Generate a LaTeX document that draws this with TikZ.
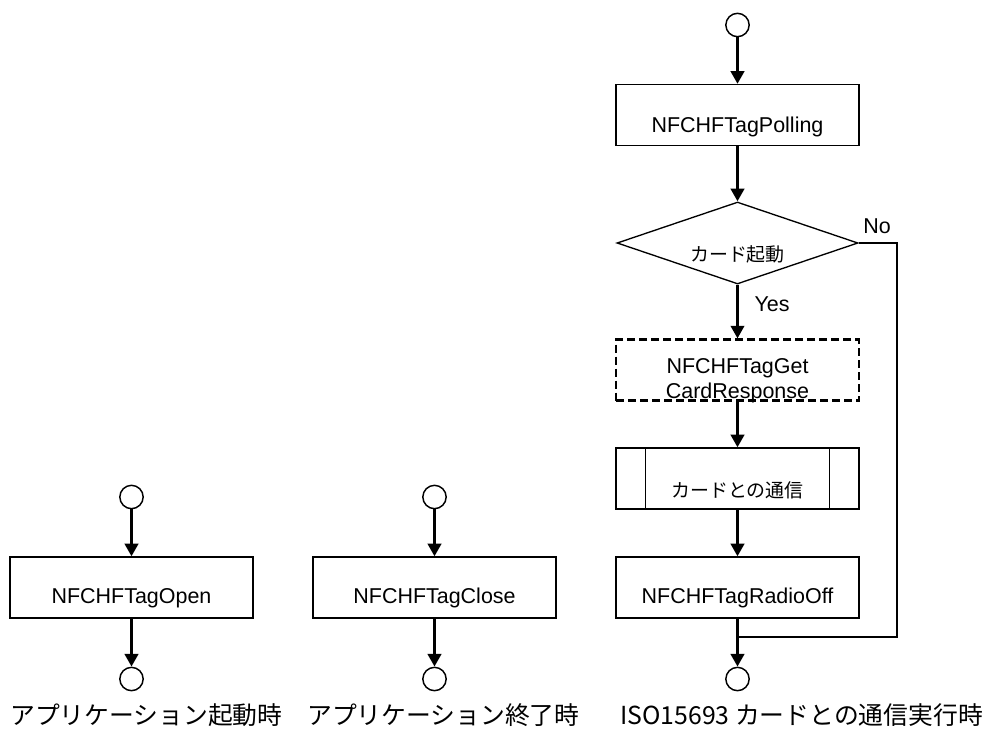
\documentclass[tikz,border=0pt]{standalone}
\usepackage{fontspec}
\setmainfont{Liberation Sans}
\newfontfamily\jp{Noto Sans CJK JP}
\usetikzlibrary{arrows.meta,shapes.geometric}

\begin{document}
\begin{tikzpicture}[x=0.75pt,y=-0.75pt,
  flow/.style={line width=2.2pt,-{Triangle[width=10pt,length=9.5pt]}},
  flowline/.style={line width=2.2pt},
  procbox/.style={draw,line width=1pt,rectangle,minimum width=182.25pt,minimum height=45.75pt,inner sep=0pt},
  term/.style={draw,circle,line width=1.1pt,minimum size=17.5pt,inner sep=0pt},
  boxtext/.style={font=\fontsize{16.1}{19}\selectfont,inner sep=0pt,anchor=base},
  jptext/.style={font=\jp\fontsize{14.2}{17}\selectfont,inner sep=0pt},
  caption/.style={font=\jp\fontsize{18.6}{22}\selectfont,inner sep=0pt,anchor=west},
]
\useasboundingbox (0,0) rectangle (995,736);

% ---- left column
\node[term] (ls) at (131.5,497) {};
\node[procbox] (open) at (131.5,587.5) {};
\node[boxtext] (opent) at (131.5,603) {NFCHFTagOpen};
\node[term] (le) at (131.5,679) {};
\draw[flow] (ls) -- (open);
\draw[flow] (open) -- (le);
\node[caption] (cap1) at (10,715) {アプリケーション起動時};

% ---- middle column
\node[term] (ms) at (434.5,497) {};
\node[procbox] (close) at (434.5,587.5) {};
\node[boxtext] (closet) at (434.5,603) {NFCHFTagClose};
\node[term] (me) at (434.5,679) {};
\draw[flow] (ms) -- (close);
\draw[flow] (close) -- (me);
\node[caption] (cap2) at (307,715) {アプリケーション終了時};

% ---- right column
\node[term] (rs) at (737.5,25) {};
\node[procbox] (poll) at (737.5,115) {};
\node[boxtext] (pollt) at (737.5,132) {NFCHFTagPolling};
\node[draw,diamond,line width=1pt,minimum width=180.75pt,minimum height=61.5pt,inner sep=0pt] (dec) at (737.5,243) {};
\node[jptext] (dect) at (737.5,254) {カード起動};
\node[procbox,line width=1.6pt,dash pattern=on 6pt off 3pt] (get) at (737.5,370) {};
\node[boxtext] (gett1) at (737.5,373) {NFCHFTagGet};
\node[boxtext] (gett2) at (737.5,398) {CardResponse};
\node[procbox] (comm) at (737.5,478.5) {};
\draw[line width=1pt] ([xshift=22.5pt]comm.north west) -- ([xshift=22.5pt]comm.south west);
\draw[line width=1pt] ([xshift=-22.5pt]comm.north east) -- ([xshift=-22.5pt]comm.south east);
\node[jptext] (commt) at (737.5,490) {カードとの通信};
\node[procbox] (radio) at (737.5,587.5) {};
\node[boxtext] (radiot) at (737.5,603) {NFCHFTagRadioOff};
\node[term] (re) at (737.5,679) {};
\coordinate (noA) at (897,243);
\coordinate (noB) at (897,637);
\coordinate (join) at (737.5,637);

\draw[flow] (rs) -- (poll);
\draw[flow] (poll) -- (dec);
\draw[flow] (dec) -- (get);
\draw[flow] (get) -- (comm);
\draw[flow] (comm) -- (radio);
\draw[flow] (radio.south) -- (join) -- (re.north);
\draw[flowline] (dec.east) -- (noA) -- (noB) -- (join);

\node[boxtext,anchor=center] (nolbl) at (877,226) {No};
\node[boxtext,anchor=center] (yeslbl) at (772,304) {Yes};

\node[caption] (cap3) at (620,715) {ISO15693 カードとの通信実行時};
\end{tikzpicture}
\end{document}
